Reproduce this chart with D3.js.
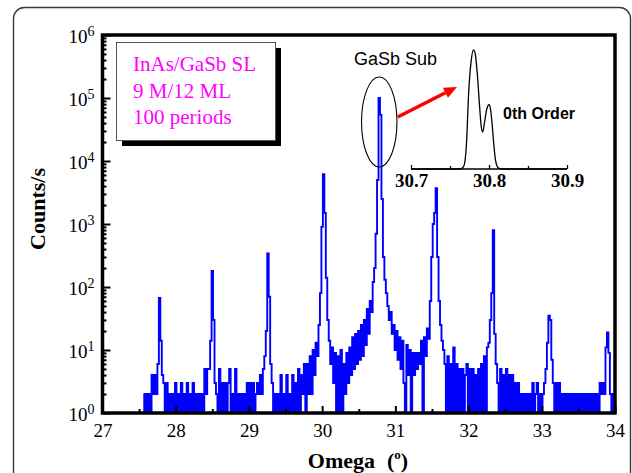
<!DOCTYPE html>
<html>
<head>
<meta charset="utf-8">
<script src="https://cdn.jsdelivr.net/npm/d3@7/dist/d3.min.js"></script>
<style>
    body { margin: 0; background: #ffffff; }
    svg { display: block; }
</style>
</head>
<body>
<svg id="svg" width="632" height="473"></svg>
<script>
//Scan grid (degrees)
const OMEGA_START = 27.56;
const OMEGA_STEP = 0.02;

//Counts/s, one value per step
const COUNTS = [
    2, 1,
    2, 1, 2, 1, 4, 2, 4, 2, 6, 67,          // 27.60
    14, 4, 3, 1, 3, 1, 2, 1, 2, 1,          // 27.80
    3, 1, 2, 1, 3, 1, 2, 1, 3, 1,           // 28.00
    2, 1, 3, 1, 2, 1, 2, 1, 2, 1,           // 28.20
    5, 2, 5, 5, 14, 180, 30, 3, 2, 1,       // 28.40
    5, 1, 3, 1, 3, 1, 3, 5, 1, 2,           // 28.60
    1, 5, 1, 2, 1, 2, 1, 2, 1, 3,           // 28.80
    1, 3, 1, 3, 1, 2, 3, 2, 4, 2,           // 29.00
    5, 8, 20, 340, 70, 6, 3, 1, 2, 1,       // 29.20
    2, 1, 4, 1, 2, 1, 4, 1, 2, 1,           // 29.40
    4, 1, 3, 1, 5, 1, 4, 2, 6, 1,           // 29.60
    6, 2, 8, 2, 10, 4, 13, 8, 25, 80,       // 29.80
    900, 6200, 1500, 140, 30, 14, 6, 11, 3, 9,          // 30.00
    1, 8, 1, 10, 1, 6, 2, 9, 3, 11,                     // 30.20
    4, 16, 5, 18, 6, 20, 7, 25, 8, 30,                  // 30.40
    12, 45, 18, 60, 40, 120, 200, 700, 5000, 100000,    // 30.60
    54000, 2500, 300, 130, 80, 50, 30, 40, 18, 25,      // 30.80
    10, 20, 7, 16, 5, 14, 3, 1, 12, 4,                  // 31.00
    10, 1, 9, 4, 9, 5, 9, 6, 14, 1,                     // 31.20
    16, 8, 22, 15, 60, 300, 1000, 1500, 3700, 300,      // 31.40
    60, 25, 14, 10, 6, 1, 8, 1, 6, 1,                   // 31.60
    11, 1, 6, 1, 5, 1, 5, 1, 4, 6,                      // 31.80
    1, 5, 1, 5, 1, 4, 1, 5, 1, 6,                       // 32.00
    1, 8, 1, 11, 13, 30, 80, 800, 18, 6,                // 32.20
    3, 1, 5, 1, 4, 1, 5, 1, 4, 1,           // 32.40
    4, 1, 3, 1, 3, 1, 2, 1, 2, 1,           // 32.60
    2, 1, 2, 1, 3, 1, 2, 3, 1, 2,           // 32.80
    1, 2, 3, 5, 13, 35, 30, 7, 3, 1,        // 33.00
    3, 1, 3, 1, 2, 1, 2, 1, 2, 1,           // 33.20
    2, 1, 2, 1, 2, 1, 2, 1, 2, 1,           // 33.40
    2, 1, 2, 1, 2, 1, 2, 1, 2, 1,           // 33.60
    3, 2, 3, 2, 11, 19, 9, 2, 1, 2,         // 33.80
    2                                       // 34.00
];

const X_TICKS = [27, 28, 29, 30, 31, 32, 33, 34];
const X_MINOR_TICKS = [27.5, 28.5, 29.5, 30.5, 31.5, 32.5, 33.5];
const Y_TICKS = [1, 10, 100, 1000, 10000, 100000, 1000000];
const LEGEND_LINES = ["InAs/GaSb SL", "9 M/12 ML", "100 periods"];

//Inset: 0th order peak (linear counts)
const INSET_OMEGA = [30.700, 30.740, 30.760, 30.765, 30.768, 30.771, 30.774, 30.777, 30.780, 30.782,
                     30.785, 30.788, 30.790, 30.792, 30.794, 30.797, 30.800, 30.802, 30.804, 30.806,
                     30.808, 30.810, 30.813, 30.818, 30.850, 30.900];
const INSET_COUNTS = [0, 0, 0, 500, 3000, 20000, 65000, 90000, 100000, 98000,
                      80000, 52000, 36000, 31000, 38000, 50000, 54000, 50000, 38000, 22000,
                      9000, 3000, 600, 0, 0, 0];
const INSET_TICKS = [30.7, 30.8, 30.9];
const INSET_MINOR_TICKS = [30.75, 30.85];

const SERIF = "'Liberation Serif', 'Times New Roman', serif";
const SANS = "'Liberation Sans', Arial, sans-serif";

const SVG = d3.select("#svg");
const LEFT = 102.5, RIGHT = 615, TOP = 35, BOTTOM = 413;

buildChart();

function buildChart()
{
    //Outer rounded border
    SVG.append("rect")
        .attr("x", 13.5).attr("y", 7.5)
        .attr("width", 617).attr("height", 520)
        .attr("rx", 11)
        .attr("fill", "none")
        .attr("stroke", "#3a3a3a")
        .attr("stroke-width", 1.4);

    let x_scale = d3.scaleLinear().domain([27, 34]).range([LEFT, RIGHT]);
    let y_scale = d3.scaleLog().domain([1, 1e6]).range([BOTTOM, TOP]);

    SVG.append("clipPath").attr("id", "plot-clip")
        .append("rect")
        .attr("x", LEFT).attr("y", TOP)
        .attr("width", RIGHT - LEFT).attr("height", BOTTOM - TOP);

    //Spectrum (step curve so the dense counting noise reads as a filled band)
    let line = d3.line()
        .x((d, i) => x_scale(OMEGA_START + i * OMEGA_STEP))
        .y(d => y_scale(Math.max(d, 1)))
        .curve(d3.curveStep);

    SVG.append("path")
        .datum(COUNTS)
        .attr("clip-path", "url(#plot-clip)")
        .attr("fill", "none")
        .attr("stroke", "#0000ff")
        .attr("stroke-width", 1.9)
        .attr("d", line);

    //Axes
    let x_axis = d3.axisBottom(x_scale).tickValues(X_TICKS).tickSize(-7).tickPadding(10.5).tickFormat(d3.format("d"));
    let x_minor = d3.axisBottom(x_scale).tickValues(X_MINOR_TICKS).tickSize(-4).tickFormat("");
    let minor_y = y_scale.ticks().filter(v => Y_TICKS.indexOf(v) < 0);
    let y_axis = d3.axisLeft(y_scale).tickValues(Y_TICKS).tickSize(-8).tickPadding(8);
    let y_minor = d3.axisLeft(y_scale).tickValues(minor_y).tickSize(-4).tickFormat("");

    let gx = SVG.append("g").attr("transform", "translate(0," + BOTTOM + ")");
    gx.call(x_axis);
    gx.selectAll("text")
        .attr("font-family", SERIF)
        .attr("font-size", 19)
        .attr("fill", "#000");
    gx.append("g").call(x_minor);
    gx.selectAll(".domain").remove();
    gx.selectAll("line").attr("stroke", "#000").attr("stroke-width", 2);

    let gy = SVG.append("g").attr("transform", "translate(" + LEFT + ",0)");
    gy.call(y_axis);
    gy.selectAll(".tick text")
        .attr("font-family", SERIF)
        .attr("font-size", 19)
        .attr("fill", "#000")
        .attr("dy", 7)
        .each(function(d) {
            let t = d3.select(this);
            t.text("10");
            t.append("tspan")
                .attr("font-size", 14)
                .attr("dy", -7)
                .text(Math.round(Math.log10(d)));
        });
    gy.append("g").call(y_minor);
    gy.selectAll(".domain").remove();
    gy.selectAll("line").attr("stroke", "#000").attr("stroke-width", 2);

    //Frame
    SVG.append("rect")
        .attr("x", LEFT).attr("y", TOP)
        .attr("width", RIGHT - LEFT).attr("height", BOTTOM - TOP)
        .attr("fill", "none")
        .attr("stroke", "#000")
        .attr("stroke-width", 3.5);

    //Axis titles
    let xt = SVG.append("text")
        .attr("x", 358).attr("y", 468)
        .attr("text-anchor", "middle")
        .attr("font-family", SERIF)
        .attr("font-weight", "bold")
        .attr("font-size", 22)
        .attr("fill", "#000");
    xt.append("tspan").text("Omega");
    xt.append("tspan").attr("dx", 12).text("(");
    xt.append("tspan").attr("font-size", 13).attr("dy", -9).text("o");
    xt.append("tspan").attr("dy", 9).text(")");

    SVG.append("text")
        .attr("transform", "translate(45,209) rotate(-90)")
        .attr("text-anchor", "middle")
        .attr("font-family", SERIF)
        .attr("font-weight", "bold")
        .attr("font-size", 22)
        .attr("fill", "#000")
        .text("Counts/s");

    //Legend box with shadow
    SVG.append("rect")
        .attr("x", 122).attr("y", 48).attr("width", 159).attr("height", 98)
        .attr("fill", "#000");
    SVG.append("rect")
        .attr("x", 116.5).attr("y", 42.5).attr("width", 159).attr("height", 98)
        .attr("fill", "#fff")
        .attr("stroke", "#555")
        .attr("stroke-width", 1);
    SVG.append("g").selectAll("text")
        .data(LEGEND_LINES)
        .enter().append("text")
        .attr("x", 133)
        .attr("y", (d, i) => 71 + i * 26.5)
        .attr("font-family", SERIF)
        .attr("font-size", 21)
        .attr("fill", "#ff00ff")
        .text(d => d);

    //Substrate annotation
    let peak_omega = OMEGA_START + COUNTS.indexOf(d3.max(COUNTS)) * OMEGA_STEP;
    let cx = x_scale(peak_omega);
    let cy = y_scale(Math.pow(10, 4.62));
    SVG.append("ellipse")
        .attr("cx", cx).attr("cy", cy)
        .attr("rx", 17.7).attr("ry", 45)
        .attr("fill", "none")
        .attr("stroke", "#000")
        .attr("stroke-width", 1.1);
    SVG.append("text")
        .attr("x", 354).attr("y", 65)
        .attr("font-family", SANS)
        .attr("font-size", 18)
        .attr("fill", "#000")
        .text("GaSb Sub");

    //Inset
    let xi_scale = d3.scaleLinear().domain([30.7, 30.9]).range([411, 567]);
    let yi_scale = d3.scaleLinear().domain([0, 100000]).range([169, 50]);

    let inset_line = d3.line()
        .x((d, i) => xi_scale(INSET_OMEGA[i]))
        .y(d => yi_scale(d))
        .curve(d3.curveMonotoneX);
    SVG.append("path")
        .datum(INSET_COUNTS)
        .attr("fill", "none")
        .attr("stroke", "#000")
        .attr("stroke-width", 1.3)
        .attr("d", inset_line);

    let xi_axis = d3.axisBottom(xi_scale).tickValues(INSET_TICKS).tickSize(-4).tickPadding(5).tickFormat(d3.format(".1f"));
    let xi_minor = d3.axisBottom(xi_scale).tickValues(INSET_MINOR_TICKS).tickSize(-3).tickFormat("");
    let gi = SVG.append("g").attr("transform", "translate(0,169)");
    gi.call(xi_axis);
    gi.append("g").call(xi_minor);
    gi.selectAll(".domain").remove();
    gi.append("line")
        .attr("x1", xi_scale(30.7)).attr("x2", xi_scale(30.9))
        .attr("stroke", "#000").attr("stroke-width", 1.3);
    gi.selectAll("line").attr("stroke", "#000").attr("stroke-width", 1.3);
    gi.selectAll("text")
        .attr("font-family", SERIF)
        .attr("font-weight", "bold")
        .attr("font-size", 19)
        .attr("fill", "#000");

    SVG.append("text")
        .attr("x", 503).attr("y", 119)
        .attr("font-family", SANS)
        .attr("font-weight", "bold")
        .attr("font-size", 16)
        .attr("fill", "#000")
        .text("0th Order");

    //Arrow from the ellipse to the inset
    let ax1 = cx + 18.5, ay1 = cy - 5;
    let ax2 = xi_scale(30.759), ay2 = yi_scale(69000);
    let ang = Math.atan2(ay2 - ay1, ax2 - ax1);
    let head = 13, half = 5.5;
    let bx = ax2 - head * Math.cos(ang), by = ay2 - head * Math.sin(ang);
    SVG.append("line")
        .attr("x1", ax1).attr("y1", ay1)
        .attr("x2", bx).attr("y2", by)
        .attr("stroke", "#ff0000")
        .attr("stroke-width", 3.5);
    SVG.append("polygon")
        .attr("points", [
            [ax2, ay2],
            [bx + half * Math.sin(ang), by - half * Math.cos(ang)],
            [bx - half * Math.sin(ang), by + half * Math.cos(ang)]
        ].map(p => p.join(",")).join(" "))
        .attr("fill", "#ff0000");
}
</script>
</body>
</html>
